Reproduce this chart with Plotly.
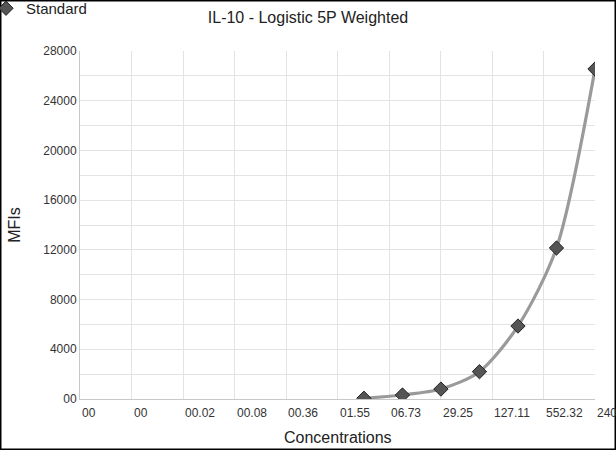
import numpy as np
import plotly.graph_objects as go

# standard curve points (3-fold dilutions)
conc = [3.29, 9.88, 29.63, 88.89, 266.67, 800.0, 2400.0]
mfi = [60, 320, 800, 2200, 5870, 12150, 26550]

# axis ticks
x_tickvals = [0.001, 0.004346, 0.018883, 0.08205, 0.35653, 1.5492, 6.7318, 29.252, 127.11, 552.32, 2400]
x_ticktext = ["00", "00", "00.02", "00.08", "00.36", "01.55", "06.73", "29.25", "127.11", "552.32", "2400"]
y_tickvals = list(range(0, 28001, 2000))
y_ticktext = ["00" if v == 0 else (str(v) if v % 4000 == 0 else "") for v in y_tickvals]

PW, PH = 515, 348  # plot area size in px

fig = go.Figure()

# fitted curve
fig.add_trace(go.Scatter(
    x=conc, y=mfi, mode="lines", line=dict(color="#9a9a9a", width=3.2, shape="spline", smoothing=0.8),
    showlegend=False, hoverinfo="skip"
))
# standards
fig.add_trace(go.Scatter(
    x=conc, y=mfi, mode="markers", name="Standard",
    marker=dict(symbol="diamond", size=11, color="#555555", line=dict(color="#222222", width=1))
))

# x tick labels: left aligned next to each grid line
for v, t in zip(x_tickvals, x_ticktext):
    fig.add_annotation(
        x=np.log10(v), y=0, xref="x", yref="paper", text=t, showarrow=False,
        xanchor="left", yanchor="top", xshift=0, yshift=-5,
        font=dict(family="Arial, Liberation Sans", size=12, color="#333333")
    )

fig.add_annotation(
    x=0.5, y=-28 / PH, xref="paper", yref="paper", text="Concentrations", showarrow=False,
    xanchor="center", yanchor="top", font=dict(family="Arial, Liberation Sans", size=16, color="#222222")
)

# frame around the whole chart
fig.add_shape(type="rect", xref="paper", yref="paper",
              x0=-80 / PW, x1=1 + 21 / PW, y0=-51 / PH, y1=1 + 51 / PH,
              line=dict(color="#000000", width=3), fillcolor="rgba(0,0,0,0)")

fig.update_layout(
    width=616, height=450,
    margin=dict(l=80, r=21, t=51, b=51, autoexpand=False),
    paper_bgcolor="white", plot_bgcolor="white",
    font=dict(family="Arial, Liberation Sans", color="#333333"),
    title=dict(text="IL-10 - Logistic 5P Weighted", x=0.5, xanchor="center", y=1 - 17 / 450, yanchor="middle",
               font=dict(size=16, color="#222222")),
    showlegend=True,
    legend=dict(x=(-14 - 80) / PW, y=1 + (51 + 8) / PH, xanchor="left", yanchor="top",
                font=dict(size=15, color="#222222"), bgcolor="rgba(0,0,0,0)", itemwidth=30,
                tracegroupgap=0),
    xaxis=dict(
        type="log", range=[np.log10(0.001), np.log10(2400)],
        tickvals=x_tickvals, ticktext=x_ticktext, showticklabels=False,
        showgrid=True, gridcolor="#e3e3e3", gridwidth=1,
        showline=True, linecolor="#c8c8c8", linewidth=1, zeroline=False, ticks=""
    ),
    yaxis=dict(
        range=[0, 28000], tickvals=y_tickvals, ticktext=y_ticktext,
        showgrid=True, gridcolor="#e3e3e3", gridwidth=1,
        showline=True, linecolor="#c8c8c8", linewidth=1, zeroline=False, ticks="",
        tickfont=dict(size=12, color="#333333"),
        title=dict(text="MFIs", font=dict(size=16, color="#222222"), standoff=18)
    ),
)

fig.write_html("out.html", config={"displayModeBar": False},
               post_script="document.body.style.margin='0px';")
